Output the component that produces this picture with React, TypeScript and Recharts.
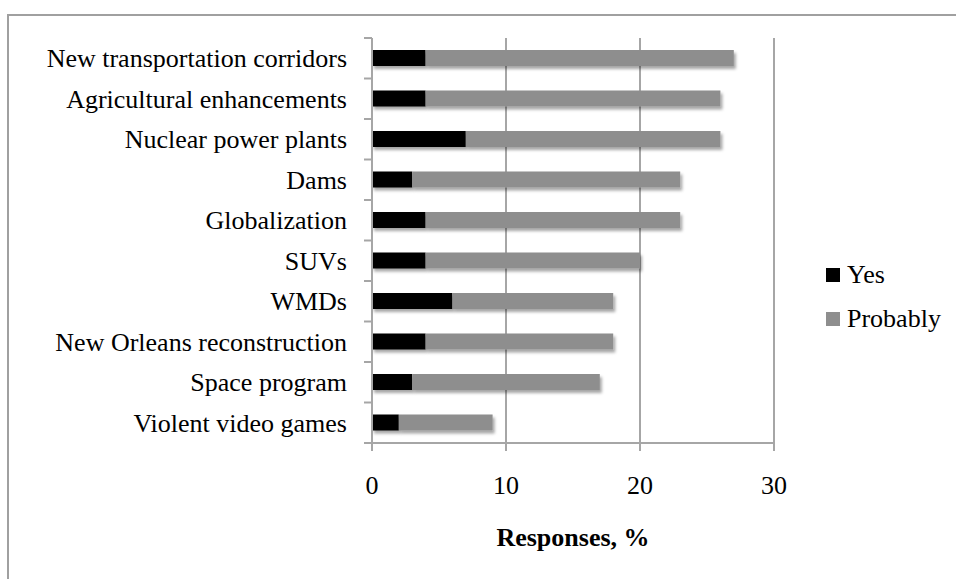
import {
  BarChart,
  Bar,
  XAxis,
  YAxis,
  CartesianGrid,
  Legend,
} from "recharts";

const categories = [
  "New transportation corridors",
  "Agricultural enhancements",
  "Nuclear power plants",
  "Dams",
  "Globalization",
  "SUVs",
  "WMDs",
  "New Orleans reconstruction",
  "Space program",
  "Violent video games",
];

const yesValues = [4, 4, 7, 3, 4, 4, 6, 4, 3, 2];
const probablyValues = [23, 22, 19, 20, 19, 16, 12, 14, 14, 7];

const seriesNames = ["Yes", "Probably"];
const xTicks = [0, 10, 20, 30];

const FONT = "'Liberation Serif', 'Times New Roman', serif";
const GRID = "#a6a6a6";

const data = categories.map((name, i) => ({
  name,
  yes: yesValues[i],
  probably: probablyValues[i],
}));

// category label plus the small tick marks between bands (Excel style)
function CategoryTick(props: any) {
  const { x, y, payload, index, height, visibleTicksCount } = props;
  const half = height / visibleTicksCount / 2;
  const lx = x + 17;
  return (
    <g>
      <line x1={lx} x2={lx + 8} y1={y - half} y2={y - half} stroke={GRID} strokeWidth={2} />
      {index === visibleTicksCount - 1 && (
        <line x1={lx} x2={lx + 8} y1={y + half} y2={y + half} stroke={GRID} strokeWidth={2} />
      )}
      <text
        x={x}
        y={y}
        dy="0.35em"
        textAnchor="end"
        fill="#000"
        style={{ fontFamily: FONT, fontSize: 26 }}
      >
        {payload.value}
      </text>
    </g>
  );
}

function LegendContent({ payload }: any) {
  const items = [...(payload || [])].sort(
    (a: any, b: any) => seriesNames.indexOf(a.value) - seriesNames.indexOf(b.value)
  );
  return (
    <div style={{ fontFamily: FONT, fontSize: 26, color: "#000" }}>
      {items.map((entry: any) => (
        <div
          key={entry.value}
          style={{ display: "flex", alignItems: "center", height: 44 }}
        >
          <span
            style={{
              display: "inline-block",
              width: 14,
              height: 14,
              background: entry.color,
              marginRight: 7,
            }}
          />
          <span>{entry.value}</span>
        </div>
      ))}
    </div>
  );
}

function ShadowRect(props: any) {
  const { x, y, width, height, fill } = props;
  if (!width || width <= 0) return null;
  return (
    <rect
      x={x}
      y={y}
      width={width}
      height={height}
      fill={fill}
      filter="url(#barShadow)"
    />
  );
}

export default function App() {
  return (
    <div
      style={{
        position: "absolute",
        left: 0,
        top: 0,
        width: 956,
        height: 579,
        background: "#fff",
        fontFamily: FONT,
      }}
    >
      <div
        style={{
          position: "absolute",
          left: 7,
          top: 14,
          right: -4,
          bottom: -4,
          borderLeft: "2px solid #a0a0a0",
          borderTop: "2px solid #a0a0a0",
        }}
      />
      <div style={{ position: "absolute", left: 0, top: 0 }}>
        <BarChart
          width={956}
          height={579}
          data={data}
          layout="vertical"
          barSize={16}
          margin={{ top: 38, right: 62, bottom: 0, left: 0 }}
        >
          <defs>
            <filter id="barShadow" x="-10%" y="-60%" width="130%" height="250%">
              <feDropShadow
                dx={2}
                dy={3}
                stdDeviation={1.6}
                floodColor="#000"
                floodOpacity={0.35}
              />
            </filter>
          </defs>
          <CartesianGrid horizontal={false} stroke={GRID} strokeWidth={2} />
          <XAxis
            type="number"
            domain={[0, 30]}
            ticks={xTicks}
            height={136}
            tickSize={8}
            tickMargin={25}
            stroke={GRID}
            strokeWidth={2}
            tick={{ fill: "#000", fontSize: 26, fontFamily: FONT }}
            label={{
              value: "Responses, %",
              position: "insideBottom",
              offset: 33,
              fill: "#000",
              fontSize: 26,
              fontWeight: "bold",
              fontFamily: FONT,
            }}
          />
          <YAxis
            type="category"
            dataKey="name"
            width={372}
            tickSize={0}
            tickMargin={25}
            tickLine={false}
            stroke={GRID}
            strokeWidth={2}
            interval={0}
            tick={<CategoryTick />}
          />
          <Legend
            layout="vertical"
            align="right"
            verticalAlign="top"
            wrapperStyle={{ left: 826, top: 253, width: 120 }}
            content={<LegendContent />}
          />
          <Bar
            dataKey="yes"
            name="Yes"
            stackId="a"
            fill="#000000"
            shape={<ShadowRect />}
            isAnimationActive={false}
          />
          <Bar
            dataKey="probably"
            name="Probably"
            stackId="a"
            fill="#8e8e8e"
            shape={<ShadowRect />}
            isAnimationActive={false}
          />
        </BarChart>
      </div>
    </div>
  );
}
